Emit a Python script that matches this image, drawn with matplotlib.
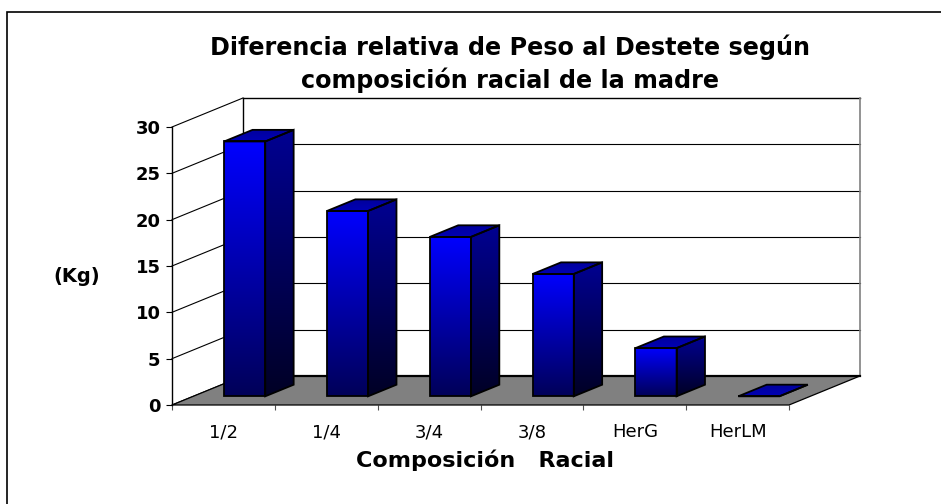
import numpy as np
import matplotlib
matplotlib.use("Agg")
import matplotlib.pyplot as plt
from matplotlib.patches import Polygon, Rectangle
from matplotlib.colors import to_rgb

# ---- data ----
categories = ["1/2", "1/4", "3/4", "3/8", "HerG", "HerLM"]
values = [27.5, 20.0, 17.2, 13.2, 5.2, 0.0]
yticks = [0, 5, 10, 15, 20, 25, 30]
title_lines = ["Diferencia relativa de Peso al Destete según",
               "composición racial de la madre"]
ylabel = "(Kg)"
xlabel = "Composición   Racial"

W, H = 941, 504
fig = plt.figure(figsize=(W / 100, H / 100), dpi=100)
plt.rcParams["font.family"] = ["DejaVu Sans"]

n = len(categories)
ymax = yticks[-1]
ax = fig.add_axes([172 / W, 99 / H, 617 / W, 278 / H])
ax.set_xlim(0, n)
ax.set_ylim(0, ymax)
ax.set_autoscale_on(False)
ax.patch.set_visible(False)
for s in ["top", "right", "bottom"]:
    ax.spines[s].set_visible(False)
ax.spines["left"].set_bounds(0, ymax)
ax.spines["left"].set_linewidth(1.0)
ax.spines["left"].set_zorder(20)

# oblique depth (data units)
DX, DY = 0.69, 3.13
bar_w = 0.4
d0, d1 = 0.3, 0.7  # bar depth range (fraction)

# back wall
ax.add_patch(Polygon([(DX, DY), (n + DX, DY), (n + DX, ymax + DY), (DX, ymax + DY)],
                     closed=True, facecolor="white", edgecolor="none", zorder=1, clip_on=False))
for t in yticks[1:-1]:
    ax.plot([DX, n + DX], [t + DY, t + DY], color="black", lw=0.8, zorder=2, clip_on=False)
ax.plot([DX, n + DX], [ymax + DY, ymax + DY], color="black", lw=1.0, zorder=2, clip_on=False)
ax.plot([DX, DX], [DY, ymax + DY], color="black", lw=1.0, zorder=2, clip_on=False)
ax.plot([n + DX, n + DX], [DY, ymax + DY], color="#808080", lw=1.2, zorder=2, clip_on=False)

# left side wall diagonals
for t in yticks:
    ax.plot([0, DX], [t, t + DY], color="black", lw=0.8, zorder=2, clip_on=False)

# floor
ax.add_patch(Polygon([(0, 0), (n, 0), (n + DX, DY), (DX, DY)], closed=True,
                     facecolor="#808080", edgecolor="black", lw=0.9, zorder=3, clip_on=False))
ax.plot([DX, n + DX], [DY, DY], color="black", lw=1.6, zorder=3.5, clip_on=False)


def grad_face(xy, top, bot, z):
    poly = Polygon(xy, closed=True, facecolor="none", edgecolor="black",
                   lw=1.3, zorder=z + 0.5, clip_on=False, joinstyle="miter")
    ax.add_patch(poly)
    xs = [p[0] for p in xy]
    ys = [p[1] for p in xy]
    if max(ys) - min(ys) < 1e-6:
        ys = [min(ys) - 1e-3, max(ys) + 1e-3]
    g = np.linspace(0, 1, 256)[:, None, None]
    img = (1 - g) * np.array(to_rgb(top))[None, None, :] + g * np.array(to_rgb(bot))[None, None, :]
    im = ax.imshow(img, extent=[min(xs), max(xs), min(ys), max(ys)], origin="upper",
                   aspect="auto", interpolation="bilinear", zorder=z)
    im.set_clip_box(fig.bbox)
    im.set_clip_path(poly)


bx, by = (d1 - d0) * DX, (d1 - d0) * DY
for i, v in enumerate(values):
    x0 = i + (1 - bar_w) / 2 + d0 * DX
    x1 = x0 + bar_w
    y0 = d0 * DY
    y1 = y0 + v
    z = 5 + i
    grad_face([(x0, y0), (x1, y0), (x1, y1), (x0, y1)], "#0000FF", "#000058", z)
    grad_face([(x1, y0), (x1 + bx, y0 + by), (x1 + bx, y1 + by), (x1, y1)], "#000092", "#000025", z)
    grad_face([(x0, y1), (x1, y1), (x1 + bx, y1 + by), (x0 + bx, y1 + by)], "#00009C", "#0000B4", z)

# ticks
ax.set_yticks(yticks)
ax.set_yticklabels([str(t) for t in yticks], fontsize=13, fontweight="bold")
ax.tick_params(axis="y", length=4, width=0.8, pad=4.3, colors="black")
ax.set_xticks(range(n + 1))
ax.set_xticklabels([])
ax.set_xticks(np.arange(n) + 0.5, minor=True)
ax.set_xticklabels(categories, minor=True, fontsize=13)
ax.tick_params(axis="x", which="major", length=3.6, width=0.8, color="#505050")
ax.tick_params(axis="x", which="minor", length=0, pad=13.2)

# texts
fig.text(510 / W, 1 - 54.5 / H, title_lines[0], ha="center", va="baseline",
         fontsize=17.2, fontweight="bold")
fig.text(510 / W, 1 - 88 / H, title_lines[1], ha="center", va="baseline",
         fontsize=17.2, fontweight="bold")
fig.text(77 / W, 1 - 277 / H, ylabel, ha="center", va="center", fontsize=14, fontweight="bold")
fig.text(485 / W, 1 - 467 / H, xlabel, ha="center", va="baseline", fontsize=16, fontweight="bold")

# outer frame (right and bottom edges beyond the canvas)
fig.add_artist(Rectangle((6.5 / W, -0.5), 2.0, (1 - 12.3 / H) + 0.5, transform=fig.transFigure,
                         fill=False, edgecolor="black", lw=1.2))

fig.savefig("out.png", dpi=100)
